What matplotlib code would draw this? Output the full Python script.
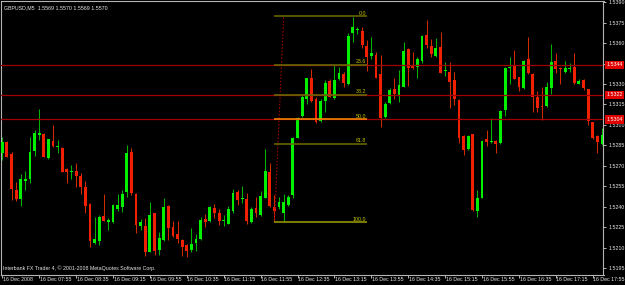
import matplotlib
matplotlib.use('Agg')
import matplotlib.pyplot as plt
import matplotlib.transforms as mtransforms
import numpy as np

# chart header / footer text
symbol_text = 'GBPUSD,M5  1.5569 1.5570 1.5569 1.5570'
footer_text = 'Interbank FX Trader 4, \u00a9 2001-2008 MetaQuotes Software Corp.'

# M5 bars, 16 Dec 2008 07:15 .. 18:05
opens = [
    1.52792, 1.52873, 1.52785, 1.52523, 1.52460, 1.52591, 1.52604, 1.52811, 1.52929, 1.52932,
    1.52756, 1.52882, 1.52838, 1.52833, 1.52675, 1.52653, 1.52663, 1.52626, 1.52545, 1.52421,
    1.52133, 1.52152, 1.52333, 1.52291, 1.52287, 1.52384, 1.52397, 1.52511, 1.52802, 1.52492,
    1.52259, 1.52259, 1.52071, 1.52353, 1.52083, 1.52157, 1.52408, 1.52250, 1.52199, 1.52157,
    1.52120, 1.52083, 1.52137, 1.52162, 1.52309, 1.52296, 1.52389, 1.52353, 1.52296, 1.52274,
    1.52372, 1.52511, 1.52460, 1.52455, 1.52291, 1.52389, 1.52340, 1.52467, 1.52653, 1.52401,
    1.52401, 1.52353, 1.52413, 1.52487, 1.52907, 1.53066, 1.53188, 1.53342, 1.53188, 1.53031,
    1.53176, 1.53324, 1.53195, 1.53335, 1.53374, 1.53298, 1.53672, 1.53695, 1.53691, 1.53581,
    1.53508, 1.53513, 1.53374, 1.53061, 1.53159, 1.53261, 1.53220, 1.53280, 1.53555, 1.53432,
    1.53427, 1.53469, 1.53659, 1.53581, 1.53506, 1.53569, 1.53396, 1.53390, 1.53330, 1.53183,
    1.52921, 1.52822, 1.52932, 1.52369, 1.52467, 1.52895, 1.52872, 1.52882, 1.52866, 1.53110,
    1.53419, 1.53432, 1.53349, 1.53269, 1.53481, 1.53371, 1.53203, 1.53141, 1.53139, 1.53269,
    1.53471, 1.53420, 1.53390, 1.53408, 1.53427, 1.53300, 1.53330, 1.53261, 1.53020, 1.52921,
    1.52860,
]
highs = [
    1.52914, 1.52882, 1.52800, 1.52580, 1.52641, 1.52663, 1.52910, 1.52963, 1.53115, 1.52941,
    1.52899, 1.53002, 1.52890, 1.52841, 1.52682, 1.52707, 1.52719, 1.52646, 1.52591, 1.52426,
    1.52328, 1.52340, 1.52494, 1.52316, 1.52418, 1.52494, 1.52523, 1.52853, 1.52829, 1.52499,
    1.52313, 1.52316, 1.52433, 1.52357, 1.52218, 1.52462, 1.52413, 1.52298, 1.52298, 1.52164,
    1.52127, 1.52243, 1.52201, 1.52328, 1.52347, 1.52408, 1.52421, 1.52382, 1.52340, 1.52406,
    1.52531, 1.52523, 1.52553, 1.52499, 1.52401, 1.52470, 1.52516, 1.52822, 1.52719, 1.52487,
    1.52474, 1.52494, 1.52487, 1.52914, 1.53061, 1.53225, 1.53346, 1.53410, 1.53207, 1.53193,
    1.53330, 1.53339, 1.53440, 1.53427, 1.53390, 1.53672, 1.53789, 1.53720, 1.53716, 1.53623,
    1.53643, 1.53537, 1.53513, 1.53171, 1.53269, 1.53342, 1.53403, 1.53610, 1.53562, 1.53533,
    1.53500, 1.53659, 1.53770, 1.53628, 1.53637, 1.53679, 1.53459, 1.53459, 1.53390, 1.53190,
    1.52926, 1.52926, 1.52934, 1.52523, 1.52890, 1.52963, 1.53053, 1.52890, 1.53110, 1.53427,
    1.53500, 1.53550, 1.53354, 1.53476, 1.53647, 1.53379, 1.53251, 1.53280, 1.53317, 1.53593,
    1.53525, 1.53423, 1.53471, 1.53456, 1.53525, 1.53335, 1.53335, 1.53264, 1.53024, 1.52926,
    1.52976,
]
lows = [
    1.52743, 1.52762, 1.52450, 1.52446, 1.52408, 1.52523, 1.52572, 1.52773, 1.52890, 1.52763,
    1.52751, 1.52841, 1.52792, 1.52653, 1.52572, 1.52602, 1.52547, 1.52494, 1.52353, 1.52108,
    1.52127, 1.52120, 1.52294, 1.52230, 1.52279, 1.52372, 1.52364, 1.52470, 1.52487, 1.52210,
    1.52230, 1.52042, 1.52067, 1.52047, 1.52047, 1.52152, 1.52157, 1.52181, 1.52133, 1.52042,
    1.52030, 1.52071, 1.52078, 1.52157, 1.52254, 1.52291, 1.52316, 1.52267, 1.52259, 1.52272,
    1.52353, 1.52413, 1.52426, 1.52274, 1.52284, 1.52328, 1.52333, 1.52462, 1.52401, 1.52287,
    1.52384, 1.52298, 1.52406, 1.52467, 1.52902, 1.53061, 1.53154, 1.53171, 1.53017, 1.53024,
    1.53097, 1.53203, 1.53190, 1.53330, 1.53280, 1.53293, 1.53610, 1.53665, 1.53562, 1.53398,
    1.53481, 1.53342, 1.52983, 1.53049, 1.53154, 1.53190, 1.53171, 1.53276, 1.53286, 1.53410,
    1.53342, 1.53456, 1.53562, 1.53500, 1.53500, 1.53379, 1.53361, 1.53127, 1.53146, 1.52866,
    1.52780, 1.52816, 1.52372, 1.52328, 1.52462, 1.52846, 1.52866, 1.52797, 1.52861, 1.53066,
    1.53300, 1.53335, 1.53249, 1.53261, 1.53374, 1.53097, 1.53097, 1.53036, 1.53129, 1.53227,
    1.53379, 1.53298, 1.53383, 1.53386, 1.53300, 1.53298, 1.53256, 1.53000, 1.52895, 1.52797,
    1.52853,
]
closes = [
    1.52877, 1.52767, 1.52528, 1.52455, 1.52602, 1.52602, 1.52800, 1.52939, 1.52939, 1.52767,
    1.52895, 1.52848, 1.52842, 1.52657, 1.52657, 1.52657, 1.52628, 1.52547, 1.52408, 1.52149,
    1.52162, 1.52328, 1.52298, 1.52303, 1.52413, 1.52413, 1.52494, 1.52792, 1.52499, 1.52267,
    1.52291, 1.52071, 1.52340, 1.52078, 1.52169, 1.52401, 1.52243, 1.52188, 1.52164, 1.52108,
    1.52076, 1.52127, 1.52166, 1.52303, 1.52289, 1.52401, 1.52353, 1.52296, 1.52300, 1.52382,
    1.52504, 1.52450, 1.52465, 1.52298, 1.52382, 1.52357, 1.52482, 1.52660, 1.52408, 1.52369,
    1.52438, 1.52438, 1.52474, 1.52907, 1.53049, 1.53207, 1.53342, 1.53178, 1.53024, 1.53176,
    1.53310, 1.53207, 1.53330, 1.53383, 1.53305, 1.53652, 1.53716, 1.53698, 1.53586, 1.53500,
    1.53525, 1.53346, 1.53049, 1.53151, 1.53256, 1.53227, 1.53293, 1.53542, 1.53420, 1.53415,
    1.53481, 1.53652, 1.53586, 1.53520, 1.53564, 1.53383, 1.53399, 1.53317, 1.53190, 1.52907,
    1.52816, 1.52921, 1.52377, 1.52462, 1.52882, 1.52877, 1.52875, 1.52860, 1.53105, 1.53415,
    1.53424, 1.53337, 1.53280, 1.53471, 1.53379, 1.53203, 1.53127, 1.53129, 1.53280, 1.53464,
    1.53408, 1.53408, 1.53420, 1.53414, 1.53310, 1.53322, 1.53269, 1.53031, 1.52907, 1.52877,
    1.52926,
]

time_labels = ['16 Dec 2008', '16 Dec 07:55', '16 Dec 08:35', '16 Dec 09:15', '16 Dec 09:55',
               '16 Dec 10:35', '16 Dec 11:15', '16 Dec 11:55', '16 Dec 12:35', '16 Dec 13:15',
               '16 Dec 13:55', '16 Dec 14:35', '16 Dec 15:15', '16 Dec 15:55', '16 Dec 16:35',
               '16 Dec 17:15', '16 Dec 17:55']
price_ticks = [1.5195, 1.5210, 1.5225, 1.5240, 1.5255, 1.5270, 1.5285, 1.5300,
               1.5315, 1.5330, 1.5345, 1.5360, 1.5375, 1.5390]

# horizontal lines and fibo retracement
hlines = [1.5344, 1.5322, 1.5304]
fib_high = 1.53797
fib_low = 1.52287
fib_levels = [0.0, 23.6, 38.2, 50.0, 61.8, 100.0]
fib_colors = ['#6e6e00', '#6e6e00', '#6e6e00', '#ff8c00', '#6e6e00', '#a0a000']
fib_bar1, fib_bar2, fib_bar_end = 59, 61, 79

plt.rcParams['font.family'] = ['Liberation Sans', 'DejaVu Sans']
FS = 3.8

o = np.array(opens)
h = np.array(highs)
l = np.array(lows)
c = np.array(closes)
x = np.arange(len(o))
up = c >= o

fig = plt.figure(figsize=(6.25, 2.85), dpi=100, facecolor='black')
ax = fig.add_axes([0.0024, 0.0351, 0.9632, 0.9597], facecolor='black')

# candles
ax.vlines(x[up], l[up], h[up], color='#00b400', lw=0.75, zorder=2)
ax.vlines(x[~up], l[~up], h[~up], color='#d02a00', lw=0.75, zorder=2)
bottom = np.minimum(o, c)
height = np.maximum(np.abs(c - o), 0.00008)
ax.bar(x[up], height[up], bottom=bottom[up], width=0.62, color='#00f000', lw=0, zorder=3)
ax.bar(x[~up], height[~up], bottom=bottom[~up], width=0.62, color='#f02000', lw=0, zorder=3)

# horizontal lines
for v in hlines:
    ax.axhline(v, color='#a00000', lw=0.9, zorder=5)

# fibo
rng = fib_high - fib_low
ax.plot([fib_bar1, fib_bar2], [fib_low, fib_high], color='#9a0000', lw=0.8,
        ls=(0, (1.5, 1.5)), zorder=4)
for lev, col in zip(fib_levels, fib_colors):
    p = fib_high - lev / 100 * rng
    ax.hlines(p, fib_bar1 - 0.1, fib_bar_end, color=col, lw=1.1, zorder=6)
    ax.text(fib_bar_end - 0.2, p + 0.00004, f'{lev:.1f}', ha='right', va='bottom',
            color='#c8c800', fontsize=FS, zorder=7)

ax.set_xlim(-0.17, 130.33)
ax.set_ylim(1.51900, 1.53905)

# price axis on the right; a label under a line's price box is hidden
ax.yaxis.tick_right()
ax.set_yticks(price_ticks)
ax.set_yticklabels(['' if min(abs(v - hv) for hv in hlines) < 0.0002 else f'{v:.4f}'
                    for v in price_ticks])
ax.tick_params(axis='y', colors='#b4b4b4', length=2, width=0.7, pad=1.5,
               labelsize=FS, labelcolor='#e6e6e6')
ytrans = mtransforms.blended_transform_factory(ax.transAxes, ax.transData)
for v in hlines:
    ax.text(1.0045, v, f'{v:.4f}', transform=ytrans, ha='left', va='center',
            color='white', fontsize=FS, zorder=10, clip_on=False,
            bbox=dict(boxstyle='square,pad=0.3', fc='#e00000', ec='none'))

# time axis
tick_pos = list(range(0, len(o), 8))
ax.set_xticks(tick_pos)
ax.tick_params(axis='x', colors='#b4b4b4', length=2, width=0.7, labelbottom=False)
xtrans = mtransforms.blended_transform_factory(ax.transData, ax.transAxes)
xtrans = mtransforms.offset_copy(xtrans, fig=fig, x=1.5, y=-2.0, units='dots')
for pos, lab in zip(tick_pos, time_labels):
    ax.text(pos - 0.2, 0, lab, transform=xtrans, ha='left', va='top',
            color='#e6e6e6', fontsize=FS, clip_on=False)

for s in ax.spines.values():
    s.set_color('#b4b4b4')
    s.set_linewidth(0.8)

ax.text(0.004, 0.986, symbol_text, transform=ax.transAxes, ha='left', va='top',
        color='#e6e6e6', fontsize=FS)
ax.text(0.003, 0.014, footer_text, transform=ax.transAxes, ha='left', va='bottom',
        color='#e6e6e6', fontsize=FS)

fig.savefig('out.png', dpi=100, facecolor='black')
